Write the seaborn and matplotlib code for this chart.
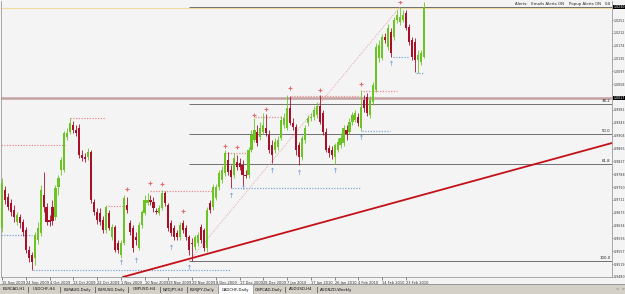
import numpy as np
import pandas as pd
import matplotlib
matplotlib.use("Agg")
import matplotlib.pyplot as plt
import matplotlib.transforms as mtransforms
from matplotlib.patches import Rectangle
import seaborn as sns

# ---------------- data (CADCHF, Daily) ----------------
date_labels = ["15 Sep 2009", "24 Sep 2009", "4 Oct 2009", "13 Oct 2009", "22 Oct 2009",
               "1 Nov 2009", "10 Nov 2009", "19 Nov 2009", "29 Nov 2009", "8 Dec 2009",
               "17 Dec 2009", "28 Dec 2009", "7 Jan 2010", "17 Jan 2010", "26 Jan 2010",
               "4 Feb 2010", "14 Feb 2010", "23 Feb 2010"]
date_label_bars = [0, 8, 16, 24, 32, 40, 48, 56, 64, 72, 80, 88, 96, 104, 112, 120, 128, 136]

opens = [0.9627, 0.9741, 0.9720, 0.9702, 0.9681, 0.9645, 0.9660, 0.9645, 0.9621, 0.9561,
         0.9546, 0.9537, 0.9591, 0.9612, 0.9726, 0.9690, 0.9651, 0.9690, 0.9660, 0.9750,
         0.9801, 0.9801, 0.9900, 0.9915, 0.9936, 0.9921, 0.9927, 0.9846, 0.9840, 0.9840,
         0.9855, 0.9705, 0.9675, 0.9672, 0.9651, 0.9621, 0.9672, 0.9600, 0.9630, 0.9582,
         0.9546, 0.9582, 0.9696, 0.9642, 0.9627, 0.9600, 0.9567, 0.9636, 0.9672, 0.9702,
         0.9711, 0.9705, 0.9678, 0.9672, 0.9687, 0.9732, 0.9696, 0.9642, 0.9627, 0.9612,
         0.9600, 0.9642, 0.9627, 0.9600, 0.9582, 0.9570, 0.9582, 0.9630, 0.9621, 0.9567,
         0.9702, 0.9690, 0.9717, 0.9750, 0.9771, 0.9792, 0.9831, 0.9801, 0.9786, 0.9825,
         0.9822, 0.9816, 0.9786, 0.9786, 0.9861, 0.9891, 0.9915, 0.9900, 0.9915, 0.9927,
         0.9906, 0.9876, 0.9861, 0.9870, 0.9897, 0.9936, 0.9927, 0.9987, 0.9942, 0.9930,
         0.9876, 0.9840, 0.9891, 0.9942, 0.9957, 0.9960, 0.9966, 0.9993, 0.9972, 0.9915,
         0.9867, 0.9861, 0.9840, 0.9861, 0.9876, 0.9882, 0.9921, 0.9915, 0.9945, 0.9951,
         0.9960, 0.9927, 1.0011, 1.0020, 0.9966, 1.0005, 1.0041, 1.0137, 1.0137, 1.0200,
         1.0170, 1.0215, 1.0200, 1.0251, 1.0245, 1.0251, 1.0272, 1.0230, 1.0191, 1.0185,
         1.0131, 1.0125, 1.0140]
highs = [0.9777, 0.9753, 0.9732, 0.9714, 0.9696, 0.9675, 0.9669, 0.9654, 0.9630, 0.9573,
         0.9555, 0.9615, 0.9645, 0.9756, 0.9795, 0.9702, 0.9666, 0.9711, 0.9756, 0.9786,
         0.9840, 0.9918, 0.9927, 0.9957, 0.9948, 0.9936, 0.9939, 0.9861, 0.9852, 0.9867,
         0.9861, 0.9714, 0.9687, 0.9687, 0.9663, 0.9696, 0.9681, 0.9639, 0.9636, 0.9591,
         0.9591, 0.9726, 0.9720, 0.9651, 0.9636, 0.9615, 0.9645, 0.9681, 0.9726, 0.9732,
         0.9726, 0.9720, 0.9687, 0.9696, 0.9741, 0.9738, 0.9702, 0.9651, 0.9636, 0.9621,
         0.9645, 0.9651, 0.9636, 0.9606, 0.9597, 0.9606, 0.9615, 0.9639, 0.9627, 0.9690,
         0.9711, 0.9759, 0.9759, 0.9801, 0.9813, 0.9861, 0.9855, 0.9816, 0.9852, 0.9846,
         0.9837, 0.9831, 0.9801, 0.9870, 0.9921, 0.9957, 0.9936, 0.9945, 0.9972, 0.9969,
         0.9921, 0.9891, 0.9897, 0.9903, 0.9963, 0.9972, 1.0026, 1.0023, 0.9957, 0.9939,
         0.9885, 0.9906, 0.9936, 0.9966, 0.9972, 0.9993, 1.0005, 1.0026, 0.9981, 0.9927,
         0.9876, 0.9873, 0.9882, 0.9897, 0.9912, 0.9936, 0.9936, 0.9957, 0.9975, 0.9981,
         0.9972, 1.0041, 1.0026, 1.0032, 1.0023, 1.0065, 1.0182, 1.0191, 1.0209, 1.0212,
         1.0239, 1.0227, 1.0260, 1.0281, 1.0290, 1.0281, 1.0281, 1.0239, 1.0200, 1.0197,
         1.0161, 1.0161, 1.0305]
lows = [0.9615, 0.9699, 0.9681, 0.9663, 0.9645, 0.9636, 0.9627, 0.9603, 0.9552, 0.9525,
        0.9501, 0.9516, 0.9579, 0.9603, 0.9675, 0.9636, 0.9633, 0.9636, 0.9651, 0.9726,
        0.9786, 0.9795, 0.9891, 0.9909, 0.9912, 0.9903, 0.9837, 0.9828, 0.9825, 0.9831,
        0.9702, 0.9666, 0.9639, 0.9636, 0.9612, 0.9612, 0.9621, 0.9591, 0.9555, 0.9552,
        0.9537, 0.9576, 0.9672, 0.9606, 0.9555, 0.9576, 0.9561, 0.9627, 0.9666, 0.9696,
        0.9696, 0.9675, 0.9669, 0.9666, 0.9681, 0.9693, 0.9618, 0.9603, 0.9591, 0.9591,
        0.9591, 0.9612, 0.9591, 0.9546, 0.9528, 0.9561, 0.9573, 0.9582, 0.9558, 0.9555,
        0.9672, 0.9681, 0.9711, 0.9741, 0.9762, 0.9783, 0.9786, 0.9747, 0.9777, 0.9801,
        0.9801, 0.9753, 0.9777, 0.9777, 0.9855, 0.9885, 0.9873, 0.9891, 0.9909, 0.9903,
        0.9852, 0.9822, 0.9852, 0.9861, 0.9891, 0.9927, 0.9921, 0.9936, 0.9921, 0.9846,
        0.9816, 0.9831, 0.9882, 0.9933, 0.9948, 0.9951, 0.9957, 0.9939, 0.9906, 0.9855,
        0.9840, 0.9834, 0.9819, 0.9855, 0.9867, 0.9873, 0.9891, 0.9909, 0.9936, 0.9945,
        0.9933, 0.9918, 0.9975, 0.9963, 0.9957, 0.9996, 1.0035, 1.0125, 1.0131, 1.0182,
        1.0161, 1.0140, 1.0191, 1.0242, 1.0236, 1.0245, 1.0221, 1.0176, 1.0131, 1.0095,
        1.0092, 1.0116, 1.0137]
closes = [0.9762, 0.9711, 0.9690, 0.9675, 0.9660, 0.9666, 0.9642, 0.9615, 0.9561, 0.9537,
          0.9525, 0.9606, 0.9627, 0.9741, 0.9690, 0.9645, 0.9645, 0.9648, 0.9747, 0.9777,
          0.9831, 0.9912, 0.9912, 0.9942, 0.9921, 0.9912, 0.9846, 0.9837, 0.9834, 0.9855,
          0.9711, 0.9675, 0.9651, 0.9645, 0.9621, 0.9690, 0.9627, 0.9630, 0.9561, 0.9561,
          0.9582, 0.9717, 0.9681, 0.9615, 0.9567, 0.9591, 0.9636, 0.9675, 0.9711, 0.9711,
          0.9705, 0.9687, 0.9675, 0.9687, 0.9732, 0.9702, 0.9627, 0.9612, 0.9600, 0.9600,
          0.9636, 0.9621, 0.9600, 0.9561, 0.9579, 0.9600, 0.9606, 0.9591, 0.9567, 0.9681,
          0.9681, 0.9750, 0.9750, 0.9792, 0.9801, 0.9852, 0.9795, 0.9780, 0.9837, 0.9810,
          0.9810, 0.9786, 0.9783, 0.9861, 0.9906, 0.9921, 0.9882, 0.9927, 0.9936, 0.9912,
          0.9861, 0.9846, 0.9885, 0.9891, 0.9951, 0.9957, 0.9987, 0.9942, 0.9930, 0.9861,
          0.9840, 0.9897, 0.9927, 0.9957, 0.9960, 0.9981, 0.9993, 0.9945, 0.9915, 0.9861,
          0.9852, 0.9846, 0.9876, 0.9885, 0.9897, 0.9927, 0.9909, 0.9945, 0.9966, 0.9972,
          0.9942, 0.9990, 0.9987, 0.9972, 1.0011, 1.0056, 1.0170, 1.0176, 1.0200, 1.0191,
          1.0227, 1.0152, 1.0251, 1.0266, 1.0260, 1.0266, 1.0227, 1.0185, 1.0140, 1.0131,
          1.0146, 1.0152, 1.0290]

# fractal markers (bar index, price)
up_fractal_bars = [42, 50, 54, 61, 75, 79, 85, 89, 97, 107, 121, 134]
up_fractal_price = [0.9744, 0.9762, 0.9759, 0.9678, 0.9873, 0.9870, 0.9966, 0.9984,
                    1.0047, 1.0041, 1.0059, 1.0305]
down_fractal_bars = [40, 45, 57, 63, 77, 81, 91, 100, 112, 121, 131]
down_fractal_price = [0.9525, 0.9531, 0.9570, 0.9510, 0.9726, 0.9750, 0.9801, 0.9795,
                      0.9801, 0.9900, 1.0122]

# dotted resistance / support levels (from bar, to bar, price)
res_from = [-0.3, 22.9, 35.7, 49.8, 75.1, 85.2, 97.3, 121.5]
res_to = [21.2, 34.7, 41.4, 70.7, 82.5, 94.6, 120.5, 133.0]
res_price = [0.9876, 0.9957, 0.9693, 0.9738, 0.9852, 0.9960, 1.0023, 1.0038]
sup_from = [-0.3, 10.4, 77.4, 121.2, 131.6, 139.4]
sup_to = [10.1, 76.8, 120.5, 130.6, 136.7, 141.8]
sup_price = [0.9606, 0.9501, 0.9747, 0.9918, 1.0140, 1.0092]

# Fibonacci retracement anchors
fib_low_bar, fib_low = 63, 0.9528
fib_high_bar, fib_high = 134, 1.0290
fib_levels = [0.0, 38.2, 50.0, 61.8, 100.0]

# trend line anchors
trend_bars = [40.7, 205.4]
trend_price = [0.9480, 0.9882]

# horizontal line and bid
hline_price = 1.0017
bid_price = 1.0287

tab_names = ["EURCAD,H1", "USDCHF,H4", "EURAUD,Daily", "EURUSD,Daily", "GBPUSD,H4",
             "NZDJPY,H4", "EURJPY,Daily", "CADCHF,Daily", "GBPCAD,Daily", "AUDUSD,H4",
             "AUDNZD,Weekly"]
active_tab = "CADCHF,Daily"

# ---------------- figure ----------------
sns.set_theme(style="white")
plt.rcParams['font.family'] = ['DejaVu Sans']

N = len(opens)
assert all(len(a) == N for a in (highs, lows, closes))
df = pd.DataFrame({'bar': np.arange(N), 'open': opens, 'high': highs,
                   'low': lows, 'close': closes})
df['up'] = df['close'] >= df['open']

W, H = 625, 294
BG = '#f4f4f4'
fig = plt.figure(figsize=(W / 100, H / 100), dpi=100)
fig.patch.set_facecolor(BG)
ax = fig.add_axes([1 / W, 1 - 277 / H, 611 / W, 276 / H])
ax.set_facecolor(BG)
ax.set_xlim(-0.34, 205.4)
ax.set_ylim(0.9480, 1.0308)

GREEN = '#6cc424'
RED = '#a8102a'
cols = np.where(df['up'], GREEN, RED)

# bid line and horizontal line
ax.axhline(bid_price, color='#f0dca0', lw=0.8, zorder=1)
ax.axhline(hline_price, color='#c4a2a2', lw=1.8, zorder=1)

# fibonacci
fib_prices = [fib_high - lv / 100.0 * (fib_high - fib_low) for lv in fib_levels]
ax.hlines(fib_prices, fib_low_bar, 205.4, colors='#5a5a5a', lw=0.6, zorder=2)
for lv, p in zip(fib_levels, fib_prices):
    ax.text(205.0, p + 0.0002, f"{lv:.1f}", ha='right', va='bottom',
            fontsize=2.8, color='#222222', zorder=6)
ax.plot([fib_low_bar, fib_high_bar], [fib_low, fib_high], color='#e09090',
        lw=0.6, ls=(0, (1, 1.5)), zorder=2)

# dotted support / resistance
ax.hlines(res_price, res_from, res_to, colors='#ec8a8a', lw=0.9,
          linestyles=[(0, (1, 1.2))], zorder=2)
ax.hlines(sup_price, sup_from, sup_to, colors='#7fa6dc', lw=0.9,
          linestyles=[(0, (1, 1.2))], zorder=2)

# candles
ax.vlines(df['bar'], df['low'], df['high'], colors=cols, lw=0.6, zorder=3)
body_lo = np.minimum(df['open'], df['close'])
body_h = np.maximum(np.abs(df['close'] - df['open']), 0.00025)
ax.bar(df['bar'], body_h, bottom=body_lo, width=0.72, color=cols, lw=0, zorder=4)

# fractal markers
sns.scatterplot(x=up_fractal_bars, y=up_fractal_price, marker='+', s=9,
                color='#e07070', linewidth=0.8, ax=ax, zorder=5)
sns.scatterplot(x=down_fractal_bars, y=down_fractal_price, marker=r'$\uparrow$', s=14,
                color='#6f96d8', linewidth=0, ax=ax, zorder=5)

# trend line
sns.lineplot(x=trend_bars, y=trend_price, color='#c41018', lw=1.3, ax=ax, zorder=5)

# axes styling
for s in ax.spines.values():
    s.set_color('#8a8a8a')
    s.set_linewidth(0.5)
ax.spines['top'].set_visible(False)

tick_vals = 0.9480 + 0.003855 * np.arange(22)
ax.yaxis.tick_right()
ax.set_yticks(tick_vals)
ax.set_yticklabels([f"{t:.4f}" for t in tick_vals])
ax.set_xticks(date_label_bars)
ax.set_xticklabels(date_labels)
for lbl in ax.get_xticklabels():
    lbl.set_horizontalalignment('left')
ax.tick_params(axis='y', right=True, left=False, labelright=True, labelleft=False,
               labelsize=2.3, length=1.0, width=0.4, pad=0.3, colors='#333333')
ax.tick_params(axis='x', bottom=True, labelsize=2.6, length=2, width=0.4, pad=0.8,
               colors='#333333')
ax.grid(False)

trans = mtransforms.blended_transform_factory(ax.transAxes, ax.transData)
for p in (hline_price, closes[-1]):
    ax.text(1.002, p, f"{p:.4f}", transform=trans, fontsize=2.3, color='white',
            va='center', ha='left', clip_on=False, zorder=10,
            bbox=dict(boxstyle='square,pad=0.12', fc='black', ec='none'))

fig.text(601 / W, 1 - 4 / H, "Alerts:   Emails Alerts ON    Popup Alerts ON",
         fontsize=2.8, ha='right', va='center', color='#222222')

# tab bar
fig.add_artist(Rectangle((0, 0), 1, 9.5 / H, transform=fig.transFigure,
                         fc='#d4d0c8', ec='none', zorder=0))
fig.add_artist(Rectangle((0, 9.5 / H), 1, 0.6 / H, transform=fig.transFigure,
                         fc='#9a9a9a', ec='none', zorder=0))
tab_edges = [0, 28, 60, 95, 128, 160, 187, 218, 253, 285, 317, 355]
for k, name in enumerate(tab_names):
    x0, x1 = tab_edges[k], tab_edges[k + 1]
    if name == active_tab:
        fig.add_artist(Rectangle((x0 / W, 0), (x1 - x0) / W, 10 / H,
                                 transform=fig.transFigure, fc='#fbfbfb',
                                 ec='#808080', lw=0.4, zorder=1))
    else:
        fig.add_artist(Rectangle((x1 / W, 1.5 / H), 0.5 / W, 6 / H,
                                 transform=fig.transFigure, fc='#707070',
                                 ec='none', zorder=1))
    fig.text((x0 + x1) / 2 / W, 4.5 / H, name, fontsize=2.8, ha='center',
             va='center', color='#111111', zorder=2)
fig.text(616 / W, 4.5 / H, "<  >", fontsize=2.8, ha='left', va='center',
         color='#666666')

fig.savefig("out.png", dpi=100, facecolor=BG)
